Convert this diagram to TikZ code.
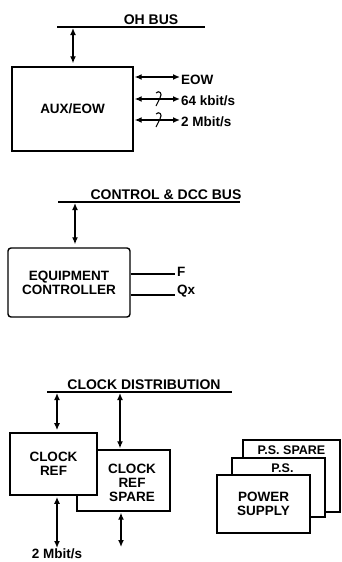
\documentclass[tikz,border=0pt]{standalone}
\usepackage{fontspec}
\setmainfont{Liberation Sans}
\usetikzlibrary{arrows.meta, positioning, calc}

\begin{document}
\begin{tikzpicture}[x=1pt, y=1pt,
    unit/.style={rectangle, draw=black, line width=1.4pt, fill=white, align=center, font=\fontsize{13.5}{14}\selectfont\bfseries, inner sep=0pt},
    boxtext/.style={align=center, font=\fontsize{13.5}{14}\selectfont\bfseries, inner sep=0pt},
    bus/.style={draw=black, line width=1.7pt},
    busname/.style={font=\fontsize{14}{15}\selectfont\bfseries, inner sep=1pt, anchor=south},
    link/.style={draw=black, line width=1.3pt, {Latex[length=7pt,width=6pt]}-{Latex[length=7pt,width=6pt]}},
    sig/.style={font=\fontsize{13.5}{14}\selectfont\bfseries, anchor=west, inner sep=1pt},
    wire/.style={draw=black, line width=1.3pt}
]
\useasboundingbox (0,0) rectangle (341,-562);

% OH bus and AUX/EOW
\coordinate (ohL) at (57,-27);
\coordinate (ohR) at (205,-27);
\coordinate (ohtap) at (73,-28);
\node[busname] (ohbus) at (151,-26) {OH BUS};
\draw[bus] (ohL) -- (ohR);
\node[unit, minimum width=121pt, minimum height=84pt] (aux) at (72.5,-109) {AUX/EOW};
\draw[link] (ohtap) -- ($(ohtap |- aux.north)+(0,3)$);

\node[sig] (eow) at (180,-80) {EOW};
\node[sig] (kbit) at (180,-101) {64 kbit/s};
\node[sig] (mbit) at (180,-122) {2 Mbit/s};
\draw[link] ($(aux.east |- eow)+(1,3)$) -- ($(eow.west)+(0,3)$);
\draw[link] ($(aux.east |- kbit)+(1,2)$) -- ($(kbit.west)+(0,2)$);
\draw[link] ($(aux.east |- mbit)+(1,2)$) -- ($(mbit.west)+(0,2)$);
% width marks
\draw[wire, line width=1.1pt] (156,-106) -- (160,-98) .. controls (163,-93) and (159,-90) .. (156,-93);
\draw[wire, line width=1.1pt] (156,-127) -- (160,-119) .. controls (163,-114) and (159,-111) .. (156,-114);

% control bus and equipment controller
\coordinate (ctlL) at (58,-202);
\coordinate (ctlR) at (240,-202);
\coordinate (ctltap) at (75,-203);
\node[busname] (ctlbus) at (166,-201) {CONTROL \& DCC BUS};
\draw[bus] (ctlL) -- (ctlR);
\node[unit, rounded corners=3pt, minimum width=122pt, minimum height=69pt] (ctl) at (69,-282.5) {EQUIPMENT\\CONTROLLER};
\draw[link] (ctltap) -- ($(ctltap |- ctl.north)+(0,3)$);

\node[sig] (fsig) at (176,-272) {F};
\node[sig] (qx) at (176,-291) {Qx};
\draw[wire] (ctl.east |- 0,-274) -- (175,-274);
\draw[wire] (ctl.east |- 0,-295) -- (175,-295);

% clock distribution
\coordinate (clkL) at (47,-392);
\coordinate (clkR) at (232,-392);
\coordinate (reftap) at (57,-393);
\coordinate (sparetap) at (120,-393);
\node[busname] (clkbus) at (144,-391) {CLOCK DISTRIBUTION};
\draw[bus] (clkL) -- (clkR);

\node[unit, minimum width=93pt, minimum height=61pt] (spare) at (123.5,-480.5) {};
\node[boxtext] (sparetext) at (132,-483) {CLOCK\\REF\\SPARE};
\node[unit, line width=1.8pt, minimum width=87pt, minimum height=62pt] (clkref) at (53.5,-464) {CLOCK\\REF};

\draw[link] (reftap) -- ($(reftap |- clkref.north)+(0,2)$);
\draw[link] (sparetap) -- ($(sparetap |- spare.north)+(0,1)$);

\node[sig, anchor=north] (refout) at (57,-548) {2 Mbit/s};
\coordinate (spareout) at (121,-547);
\draw[link] ($(refout.north |- clkref.south)+(0,-1)$) -- (refout.north);
\draw[link] ($(spareout |- spare.south)+(0,-1)$) -- (spareout);

% power supplies
\node[unit, minimum width=97pt, minimum height=72pt] (psspare) at (291.5,-476) {};
\node[boxtext, font=\fontsize{12.5}{13}\selectfont\bfseries, below=6pt of psspare.north] (psparetext) {P.S. SPARE};
\node[unit, minimum width=93pt, minimum height=59pt] (ps) at (278.5,-487.5) {};
\node[boxtext, font=\fontsize{12.5}{13}\selectfont\bfseries, below=6pt of ps.north, xshift=4pt] (pstext) {P.S.};
\node[unit, minimum width=93pt, minimum height=58pt] (power) at (263.5,-504) {POWER\\SUPPLY};
\end{tikzpicture}
\end{document}
